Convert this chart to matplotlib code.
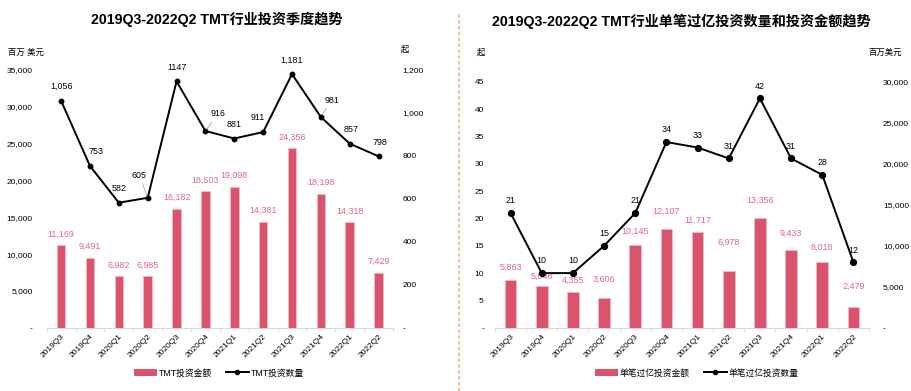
"""Two-panel TMT investment trend chart (bars + line on twin axes)."""

import matplotlib.pyplot as plt
import numpy as np
from matplotlib.lines import Line2D
from matplotlib.patches import Patch
from matplotlib.ticker import FuncFormatter, MultipleLocator

plt.rcParams["font.family"] = ["Liberation Sans", "Noto Sans CJK SC", "DejaVu Sans"]

quarters = ["2019Q3", "2019Q4", "2020Q1", "2020Q2", "2020Q3", "2020Q4",
            "2021Q1", "2021Q2", "2021Q3", "2021Q4", "2022Q1", "2022Q2"]

tmt_amount = [11169, 9491, 6982, 6985, 16182, 18503, 19098, 14381, 24356, 18198, 14318, 7429]
tmt_count = [1056, 753, 582, 605, 1147, 916, 881, 911, 1181, 981, 857, 798]
tmt_count_labels = ["1,056", "753", "582", "605", "1147", "916", "881", "911", "1,181", "981", "857", "798"]

big_count = [21, 10, 10, 15, 21, 34, 33, 31, 42, 31, 28, 12]
big_amount = [5863, 5048, 4355, 3606, 10145, 12107, 11717, 6978, 13356, 9433, 8018, 2479]

BAR_COLOR = "#DA546E"
LABEL_COLOR = "#E8647E"
AXIS_GRAY = "#D9D9D9"
TICK_SIZE = 6.0


def thousands(value, _pos=None):
    if abs(value) < 1e-9:
        return "-"
    return f"{value:,.0f}"


def style_base(axis):
    for side in ("top", "left", "right"):
        axis.spines[side].set_visible(False)
    axis.spines["bottom"].set_color(AXIS_GRAY)
    axis.set_xlim(-0.5, len(quarters) - 0.5)
    axis.set_xticks(range(len(quarters)))
    axis.set_xticklabels(quarters, rotation=45, ha="right", rotation_mode="anchor", fontsize=TICK_SIZE)
    axis.tick_params(axis="x", which="major", length=0, pad=4)
    axis.set_xticks(np.arange(-0.5, len(quarters), 1.0), minor=True)
    axis.tick_params(axis="x", which="minor", length=3, color=AXIS_GRAY)
    axis.tick_params(axis="y", length=0, labelsize=TICK_SIZE)


def style_twin(axis):
    for side in ("top", "left", "right", "bottom"):
        axis.spines[side].set_visible(False)
    axis.tick_params(axis="y", length=0, labelsize=TICK_SIZE)


def add_legend(figure, bar_label, line_label, center_x):
    figure.legend(handles=[Patch(facecolor=BAR_COLOR, edgecolor="none", label=bar_label),
                           Line2D([0], [0], color="black", marker="o", markersize=3, linewidth=1.4,
                                  label=line_label)],
                  loc="center", bbox_to_anchor=(center_x / 912, 1 - 373 / 391), ncol=2, frameon=False,
                  fontsize=6.3, handlelength=2.6, handleheight=0.8, columnspacing=1.6, handletextpad=0.2)


figure = plt.figure(figsize=(9.12, 3.91), dpi=100)
x = np.arange(len(quarters))

# ---------------- left panel ----------------
ax_left = figure.add_axes([46.7 / 912, 1 - 327.7 / 391, (393 - 46.7) / 912, (327.7 - 70) / 391])
style_base(ax_left)
ax_left.bar(x, tmt_amount, width=0.3, color=BAR_COLOR, edgecolor="#F4B8C4", linewidth=0.6)
ax_left.set_ylim(0, 35000)
ax_left.yaxis.set_major_locator(MultipleLocator(5000))
ax_left.yaxis.set_major_formatter(FuncFormatter(thousands))
ax_left.tick_params(axis="y", pad=10)
for xi, value in zip(x, tmt_amount):
    ax_left.annotate(f"{value:,}", (xi, value), xytext=(0, 5), textcoords="offset points",
                     ha="center", va="bottom", fontsize=6.4, color=LABEL_COLOR)

ax_left_count = ax_left.twinx()
style_twin(ax_left_count)
ax_left_count.plot(x, tmt_count, color="black", linewidth=1.4, marker="o", markersize=3.2)
ax_left_count.set_ylim(0, 1200)
ax_left_count.yaxis.set_major_locator(MultipleLocator(200))
ax_left_count.yaxis.set_major_formatter(FuncFormatter(thousands))
ax_left_count.tick_params(axis="y", pad=7)

left_offsets = [(0, 7), (4, 7), (0, 7), (-6, 13), (0, 7), (9, 9), (0, 7), (-4, 7), (0, 7), (8, 9), (1, 7), (1, 7)]
leader_lines = {3, 5, 9}
for i, (xi, value, text) in enumerate(zip(x, tmt_count, tmt_count_labels)):
    dx, dy = left_offsets[i]
    props = dict(arrowstyle="-", color="#A6A6A6", linewidth=0.6, shrinkA=1, shrinkB=2) if i in leader_lines else None
    ax_left_count.annotate(text, (xi, value), xytext=(dx, dy), textcoords="offset points",
                           ha="center", va="bottom", fontsize=6.4, color="black", arrowprops=props)

figure.text(217 / 912, 1 - 19 / 391, "2019Q3-2022Q2 TMT行业投资季度趋势", ha="center", va="center",
            fontsize=10.2, fontweight="bold")
figure.text(26 / 912, 1 - 53 / 391, "百万 美元", ha="center", va="center", fontsize=6)
figure.text(405 / 912, 1 - 50 / 391, "起", ha="center", va="center", fontsize=6)
add_legend(figure, "TMT投资金额", "TMT投资数量", 219)

# ---------------- right panel ----------------
ax_right = figure.add_axes([495 / 912, 1 - 327.7 / 391, (869 - 495) / 912, (327.7 - 82) / 391])
style_base(ax_right)
ax_right.set_yticks([])
ax_right_amount = ax_right.twinx()
style_twin(ax_right_amount)
ax_right_amount.bar(x, big_amount, width=0.37, color=BAR_COLOR, edgecolor="#F4B8C4", linewidth=0.6)
ax_right_amount.set_ylim(0, 30000)
ax_right_amount.yaxis.set_major_locator(MultipleLocator(5000))
ax_right_amount.yaxis.set_major_formatter(FuncFormatter(thousands))
ax_right_amount.tick_params(axis="y", pad=10)
right_bar_dy = [6, 4, 5, 10, 6, 9, 5, 17, 10, 9, 7, 12]
for xi, value, dy in zip(x, big_amount, right_bar_dy):
    ax_right_amount.annotate(f"{value:,}", (xi, value), xytext=(0, dy), textcoords="offset points",
                             ha="center", va="bottom", fontsize=6.4, color=LABEL_COLOR)

ax_right_count = ax_right.twinx()
style_twin(ax_right_count)
ax_right_count.yaxis.set_label_position("left")
ax_right_count.yaxis.tick_left()
ax_right_count.plot(x, big_count, color="black", linewidth=1.4, marker="o", markersize=4.2)
ax_right_count.set_ylim(0, 45)
ax_right_count.yaxis.set_major_locator(MultipleLocator(5))
ax_right_count.yaxis.set_major_formatter(FuncFormatter(thousands))
ax_right_count.tick_params(axis="y", pad=8)
for xi, value in zip(x, big_count):
    ax_right_count.annotate(f"{value}", (xi, value), xytext=(0, 5.5), textcoords="offset points",
                            ha="center", va="bottom", fontsize=6.4, color="black")

figure.text(681 / 912, 1 - 21 / 391, "2019Q3-2022Q2 TMT行业单笔过亿投资数量和投资金额趋势", ha="center",
            va="center", fontsize=10.2, fontweight="bold")
figure.text(481 / 912, 1 - 53 / 391, "起", ha="center", va="center", fontsize=6)
figure.text(885 / 912, 1 - 53 / 391, "百万美元", ha="center", va="center", fontsize=6)
add_legend(figure, "单笔过亿投资金额", "单笔过亿投资数量", 697)

# dashed divider between panels
figure.add_artist(Line2D([459.5 / 912, 459.5 / 912], [0, 1 - 14 / 391], transform=figure.transFigure,
                         color="#F0B08C", linewidth=1.2, linestyle=(0, (2, 1.5))))

figure.savefig("out.png", dpi=100)
plt.close(figure)
